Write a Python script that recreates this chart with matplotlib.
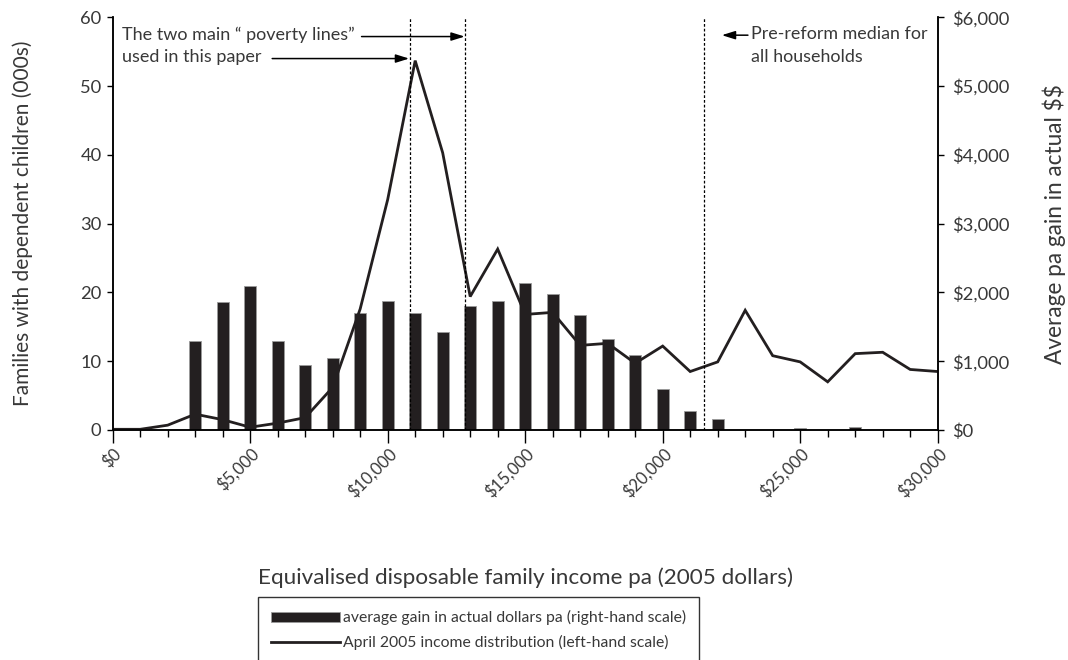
import matplotlib
matplotlib.use("Agg")
import matplotlib.pyplot as plt
from matplotlib.lines import Line2D
from matplotlib.patches import Patch
from matplotlib.ticker import FuncFormatter, MultipleLocator

plt.rcParams['font.family'] = ['Lato', 'DejaVu Sans']
plt.rcParams['text.parse_math'] = False

# ---- data ----
income = [0, 1000, 2000, 3000, 4000, 5000, 6000, 7000, 8000, 9000, 10000,
          11000, 12000, 13000, 14000, 15000, 16000, 17000, 18000, 19000, 20000,
          21000, 22000, 23000, 24000, 25000, 26000, 27000, 28000, 29000, 30000]
families = [0.1, 0.1, 0.7, 2.3, 1.5, 0.4, 1.0, 1.8, 6.2, 17.6, 33.5,
            53.7, 40.3, 19.4, 26.3, 16.8, 17.1, 12.3, 12.6, 9.7, 12.2,
            8.5, 9.9, 17.4, 10.8, 9.9, 7.0, 11.1, 11.3, 8.8, 8.5]
gain = [0, 0, 0, 1300, 1860, 2090, 1300, 940, 1050, 1700, 1880,
        1700, 1420, 1800, 1875, 2140, 1970, 1665, 1325, 1090, 590,
        280, 160, 0, 0, 25, 0, 50, 0, 0, 0]
poverty_lines = [10800, 12800]
median_line = 21500
left_ticks = [0, 10, 20, 30, 40, 50, 60]
right_ticks = [0, 1000, 2000, 3000, 4000, 5000, 6000]

txt = '#383838'
dark = '#231f20'

fig = plt.figure(figsize=(10.68, 6.6), dpi=100)
ax = fig.add_axes([0.1055, 0.3485, 0.7725, 0.6253])
ax2 = ax.twinx()
ax.set_zorder(ax2.get_zorder() + 1)
ax.patch.set_visible(False)

ax2.bar(income, gain, width=440, color=dark, edgecolor='#9a9a9a', linewidth=0.6)
ax.plot(income, families, color=dark, lw=2.0, solid_joinstyle='miter')

for xv in poverty_lines + [median_line]:
    ax.axvline(xv, color='black', lw=0.9, ls=(0, (2.2, 1.6)))

ax.set_xlim(0, 30000)
ax.set_ylim(0, 60)
ax2.set_ylim(0, 6000)
ax.set_yticks(left_ticks)
ax2.set_yticks(right_ticks)
ax2.yaxis.set_major_formatter(FuncFormatter(lambda v, p: '${:,.0f}'.format(v)))
ax.xaxis.set_major_locator(MultipleLocator(5000))
ax.xaxis.set_minor_locator(MultipleLocator(1000))
ax.xaxis.set_major_formatter(FuncFormatter(lambda v, p: '${:,.0f}'.format(v)))

for a in (ax, ax2):
    a.spines['top'].set_visible(False)
    for s in ('left', 'right', 'bottom'):
        a.spines[s].set_linewidth(1.1)
        a.spines[s].set_color('black')

ax.tick_params(axis='y', direction='out', length=4, width=1, color='black',
               labelcolor=txt, labelsize=13.2, pad=4)
ax2.tick_params(axis='y', direction='out', length=4, width=1, labelsize=13.2,
                labelcolor=txt, color='black', pad=6)
ax.tick_params(axis='x', which='major', direction='out', length=9, width=1,
               color='black', labelcolor=txt, labelsize=12, pad=2)
ax.tick_params(axis='x', which='minor', direction='out', length=5, width=1,
               color='black')
for lbl in ax.get_xticklabels():
    lbl.set_rotation(45)
    lbl.set_ha('right')
    lbl.set_va('top')
    lbl.set_rotation_mode('anchor')

ax.set_ylabel('Families with dependent children (000s)', fontsize=15,
              color=txt, labelpad=34)
ax2.set_ylabel('Average pa gain in actual $$', fontsize=16.3, color=txt,
               labelpad=24)
fig.text(0.4916, 1 - 578 / 660, 'Equivalised disposable family income pa (2005 dollars)',
         ha='center', va='center', fontsize=16.2, color=txt)

# annotations
arrow_kw = dict(arrowstyle='-|>,head_length=0.8,head_width=0.25', color='black',
                lw=1.1, shrinkA=0, shrinkB=0)
ax.annotate('', xy=(12800, 57.2), xytext=(9050, 57.2), arrowprops=arrow_kw)
ax.annotate('', xy=(10780, 54.0), xytext=(5800, 54.0), arrowprops=arrow_kw)
ax.annotate('', xy=(22150, 57.4), xytext=(23100, 57.4), arrowprops=arrow_kw)
ax.text(350, 57.5, 'The two main \u201c poverty lines\u201d', fontsize=13,
        color=txt, va='center', ha='left')
ax.text(350, 54.2, 'used in this paper', fontsize=13, color=txt,
        va='center', ha='left')
ax.text(23200, 57.5, 'Pre-reform median for', fontsize=12.9, color=txt,
        va='center', ha='left')
ax.text(23200, 54.2, 'all households', fontsize=12.9, color=txt,
        va='center', ha='left')

# legend
handles = [Patch(facecolor=dark, edgecolor='#9a9a9a', linewidth=0.6),
           Line2D([], [], color=dark, lw=2.0)]
labels = ['average gain in actual dollars pa (right-hand scale)',
          'April 2005 income distribution (left-hand scale)']
leg = fig.legend(handles, labels, loc='upper left',
                 bbox_to_anchor=(258 / 1068, 1 - 597 / 660),
                 fontsize=11.3, frameon=True, fancybox=False, edgecolor='black',
                 handlelength=4.4, handleheight=0.6, handletextpad=0.15,
                 labelspacing=0.6, borderpad=0.85, borderaxespad=0)
leg.get_frame().set_linewidth(1.0)
for t in leg.get_texts():
    t.set_color(txt)

fig.savefig('out.png', dpi=100)
